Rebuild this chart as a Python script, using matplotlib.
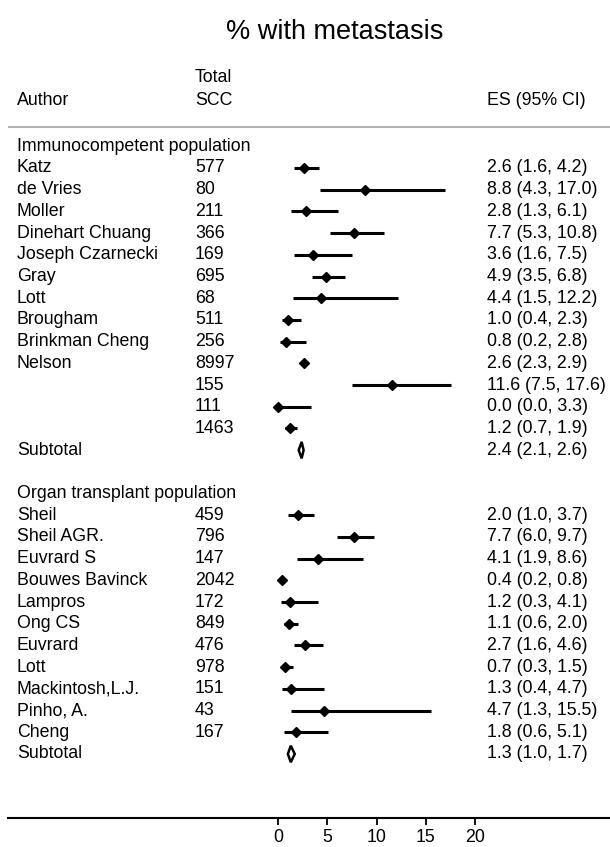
import numpy as np
import matplotlib
matplotlib.use('Agg')
from matplotlib import pyplot as plt
from matplotlib.patches import Polygon
from matplotlib.transforms import blended_transform_factory

plt.rcParams['font.family'] = ['Liberation Sans', 'DejaVu Sans']

# immunocompetent studies
imm_author = ['Katz', 'de Vries', 'Moller', 'Dinehart Chuang', 'Joseph Czarnecki',
              'Gray', 'Lott', 'Brougham', 'Brinkman Cheng', 'Nelson', '', '', '']
imm_n = [577, 80, 211, 366, 169, 695, 68, 511, 256, 8997, 155, 111, 1463]
imm_es = [2.6, 8.8, 2.8, 7.7, 3.6, 4.9, 4.4, 1.0, 0.8, 2.6, 11.6, 0.0, 1.2]
imm_lo = [1.6, 4.3, 1.3, 5.3, 1.6, 3.5, 1.5, 0.4, 0.2, 2.3, 7.5, 0.0, 0.7]
imm_hi = [4.2, 17.0, 6.1, 10.8, 7.5, 6.8, 12.2, 2.3, 2.8, 2.9, 17.6, 3.3, 1.9]
imm_sub = (2.4, 2.1, 2.6)

# organ transplant studies
otr_author = ['Sheil', 'Sheil AGR.', 'Euvrard S', 'Bouwes Bavinck', 'Lampros', 'Ong CS',
              'Euvrard', 'Lott', 'Mackintosh,L.J.', 'Pinho, A.', 'Cheng']
otr_n = [459, 796, 147, 2042, 172, 849, 476, 978, 151, 43, 167]
otr_es = [2.0, 7.7, 4.1, 0.4, 1.2, 1.1, 2.7, 0.7, 1.3, 4.7, 1.8]
otr_lo = [1.0, 6.0, 1.9, 0.2, 0.3, 0.6, 1.6, 0.3, 0.4, 1.3, 0.6]
otr_hi = [3.7, 9.7, 8.6, 0.8, 4.1, 2.0, 4.6, 1.5, 4.7, 15.5, 5.1]
otr_sub = (1.3, 1.0, 1.7)

ticks = [0, 5, 10, 15, 20]

fig = plt.figure(figsize=(6.1, 8.47), dpi=100)
# axes bottom sits on the x axis line, spans the full width
ax = fig.add_axes([8 / 610, 1 - 818 / 847, 602 / 610, 818 / 847])
ax.set_xlim((8 - 278) / 9.85, (610 - 278) / 9.85)
ax.set_ylim(29.95, -7.74)
for s in ['top', 'left', 'right']:
    ax.spines[s].set_visible(False)
ax.spines['bottom'].set_linewidth(1.5)
ax.set_yticks([])
ax.set_xticks(ticks)
ax.tick_params(axis='x', direction='out', length=5, width=1.3, labelsize=12.8, pad=3)

tr = blended_transform_factory(fig.transFigure, ax.transData)
fs = 12.8
x_auth, x_n, x_es = 17 / 610, 195 / 610, 487 / 610


def block(start, header, authors, ns, es, lo, hi, sub):
    ax.text(x_auth, start - 1, header, transform=tr, fontsize=fs, va='center')
    rows = np.arange(len(es)) + start
    ax.hlines(rows, lo, hi, color='black', linewidth=2.2)
    ax.plot(es, rows, 'D', color='black', markersize=5)
    for r, a, n, e, l, h in zip(rows, authors, ns, es, lo, hi):
        ax.text(x_auth, r, a, transform=tr, fontsize=fs, va='center')
        ax.text(x_n, r, str(n), transform=tr, fontsize=fs, va='center')
        ax.text(x_es, r, f'{e:.1f} ({l:.1f}, {h:.1f})', transform=tr, fontsize=fs, va='center')
    r = start + len(es)
    e, l, h = sub
    ax.add_patch(Polygon([(l, r), (e, r - 0.38), (h, r), (e, r + 0.38)], closed=True,
                         facecolor='white', edgecolor='black', linewidth=1.8))
    ax.text(x_auth, r, 'Subtotal', transform=tr, fontsize=fs, va='center')
    ax.text(x_es, r, f'{e:.1f} ({l:.1f}, {h:.1f})', transform=tr, fontsize=fs, va='center')


block(0, 'Immunocompetent population', imm_author, imm_n, imm_es, imm_lo, imm_hi, imm_sub)
block(16, 'Organ transplant population', otr_author, otr_n, otr_es, otr_lo, otr_hi, otr_sub)

# header
ax.text(x_auth, -3.13, 'Author', transform=tr, fontsize=fs, va='center')
ax.text(x_n, -4.15, 'Total', transform=tr, fontsize=fs, va='center')
ax.text(x_n, -3.13, 'SCC', transform=tr, fontsize=fs, va='center')
ax.text(x_es, -3.13, 'ES (95% CI)', transform=tr, fontsize=fs, va='center')
ax.axhline(-1.9, color='#b0b0b0', linewidth=1.5)

fig.text(335 / 610, 1 - 32 / 847, '% with metastasis', fontsize=19.5, ha='center', va='center')

fig.savefig('out.png', dpi=100)
